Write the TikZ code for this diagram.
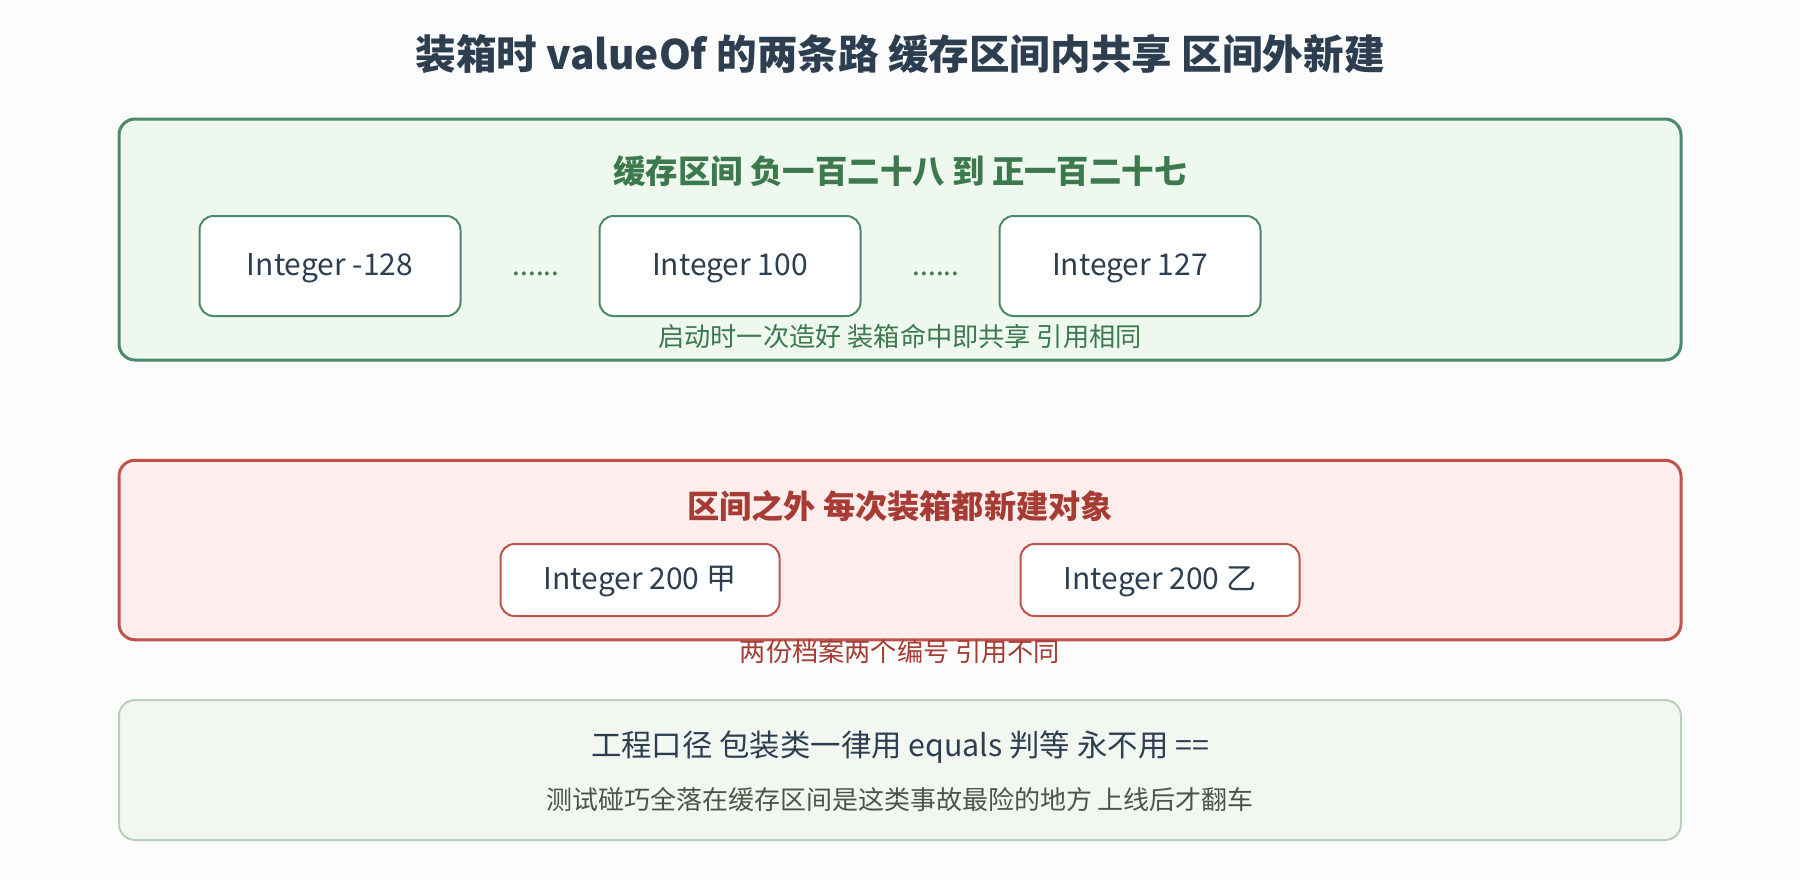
\documentclass[tikz,border=0pt]{standalone}
\usepackage{fontspec}
\setmainfont{Noto Sans CJK SC}
\definecolor{inkdark}{RGB}{44,62,80}
\definecolor{pagebg}{RGB}{252,252,252}
\definecolor{cacheline}{RGB}{74,138,106}
\definecolor{cachefill}{RGB}{238,248,238}
\definecolor{cachetext}{RGB}{60,122,78}
\definecolor{freshline}{RGB}{192,84,76}
\definecolor{freshfill}{RGB}{253,238,237}
\definecolor{freshtext}{RGB}{166,60,52}
\definecolor{ruleline}{RGB}{184,207,186}
\definecolor{rulefill}{RGB}{243,247,241}
\definecolor{ruletext}{RGB}{74,85,72}
\tikzset{
  label/.style = {align=center, inner sep=0pt, text centered},
  panel/.style = {inner sep=0pt, rounded corners=8pt, minimum width=781pt},
  cellbox/.style = {label, rounded corners=7pt, fill=white, line width=1pt,
    text=inkdark, font=\fontsize{15}{18}\selectfont, text height=9.9pt, text depth=0pt},
}

\begin{document}
\begin{tikzpicture}[x=0.5pt,y=-0.5pt]
\useasboundingbox[fill=pagebg] (0,0) rectangle (1800,880);
\node [label, text=inkdark, font=\fontsize{20.3}{24}\selectfont\bfseries] (title) at (900,54)
  {装箱时 valueOf 的两条路 缓存区间内共享 区间外新建};
% cache range
\node [panel, draw=cacheline, fill=cachefill, line width=1.5pt, minimum height=120.5pt] (cache) at (900,239.5) {};
\node [label, text=cachetext, font=\fontsize{16.2}{19}\selectfont\bfseries] (cachehead) at (900,171)
  {缓存区间 负一百二十八 到 正一百二十七};
\node [cellbox, draw=cacheline, minimum width=130.5pt, minimum height=50pt] (low) at (330,266) {Integer -128};
\node [cellbox, draw=cacheline, minimum width=130.5pt, minimum height=50pt] (mid) at (730,266) {Integer 100};
\node [cellbox, draw=cacheline, minimum width=130.5pt, minimum height=50pt] (high) at (1130,266) {Integer 127};
\node [label, text=cachetext, font=\fontsize{14}{17}\selectfont] (dotsa) at (536,274) {......};
\node [label, text=cachetext, font=\fontsize{14}{17}\selectfont] (dotsb) at (936,274) {......};
\node [label, text=cachetext, font=\fontsize{13.1}{15}\selectfont] (cachenote) at (900,336)
  {启动时一次造好 装箱命中即共享 引用相同};
% outside the range
\node [panel, draw=freshline, fill=freshfill, line width=1.5pt, minimum height=89.75pt] (fresh) at (900,550) {};
\node [label, text=freshtext, font=\fontsize{16.1}{19}\selectfont\bfseries] (freshhead) at (900,506)
  {区间之外 每次装箱都新建对象};
\node [cellbox, draw=freshline, minimum width=139.5pt, minimum height=36pt] (jia) at (640,580) {Integer 200 甲};
\node [cellbox, draw=freshline, minimum width=139.5pt, minimum height=36pt] (yi) at (1160,580) {Integer 200 乙};
\node [label, text=freshtext, font=\fontsize{13.1}{15}\selectfont] (freshnote) at (900,652)
  {两份档案两个编号 引用不同};
% rule of thumb
\node [panel, draw=ruleline, fill=rulefill, line width=1pt, minimum height=70pt] (rule) at (900,770) {};
\node [label, text=inkdark, font=\fontsize{15.2}{18}\selectfont] (rulemain) at (900,747)
  {工程口径 包装类一律用 equals 判等 永不用 ==};
\node [label, text=ruletext, font=\fontsize{13}{15}\selectfont] (rulewarn) at (900,800)
  {测试碰巧全落在缓存区间是这类事故最险的地方 上线后才翻车};
\end{tikzpicture}
\end{document}
